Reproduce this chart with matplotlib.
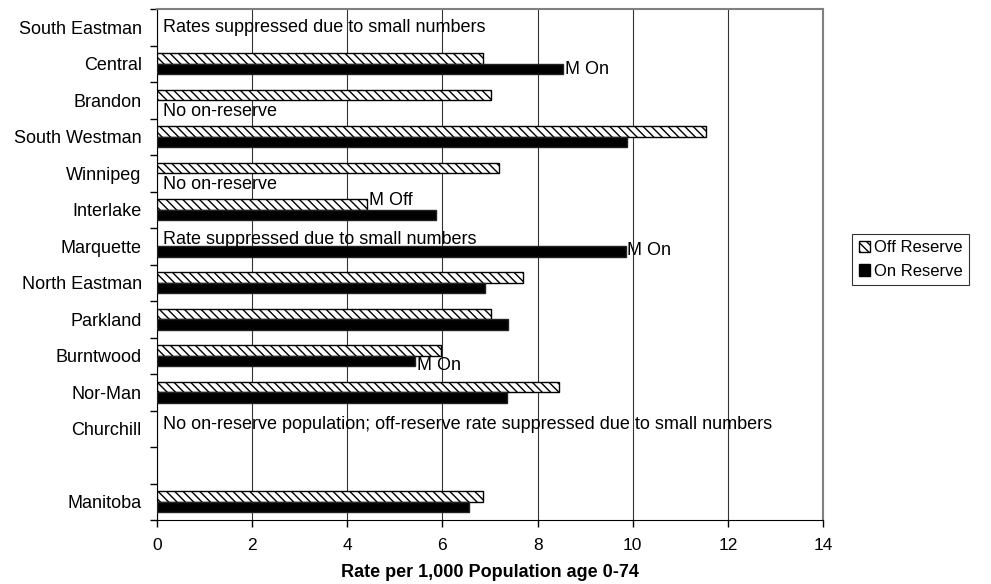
import numpy as np
import matplotlib
matplotlib.use("Agg")
import matplotlib.pyplot as plt
from matplotlib.patches import Patch
from matplotlib.ticker import FixedLocator, NullFormatter

plt.rcParams['font.family'] = ['Liberation Sans', 'DejaVu Sans']
plt.rcParams['hatch.linewidth'] = 1.0

# 区域与数据（空字符串为占位行）
regions = ["South Eastman", "Central", "Brandon", "South Westman", "Winnipeg",
           "Interlake", "Marquette", "North Eastman", "Parkland", "Burntwood",
           "Nor-Man", "Churchill", "", "Manitoba"]
off_reserve = [np.nan, 6.86, 7.02, 11.55, 7.19, 4.42, np.nan, 7.70, 7.02, 5.96,
               8.44, np.nan, np.nan, 6.85]
on_reserve = [np.nan, 8.54, np.nan, 9.89, np.nan, 5.87, 9.86, 6.89, 7.38, 5.43,
              7.36, np.nan, np.nan, 6.55]

# 文字说明：(行号, 文本)
notes = [
    (0, "Rates suppressed due to small numbers"),
    (2, "No on-reserve"),
    (4, "No on-reserve"),
    (6, "Rate suppressed due to small numbers"),
    (11, "No on-reserve population; off-reserve rate suppressed due to small numbers"),
]
# 条形末端标记：(行号, 条形, 文本)
flags = [(1, 'on', "M On"), (5, 'off', "M Off"), (6, 'on', "M On"), (9, 'on', "M On")]

FS = 13
BAR_H = 0.29
OFFSET = {'off': -BAR_H / 2, 'on': BAR_H / 2}
# 说明文字相对行中心的纵向位置（数据单位）
note_dy = {0: 0.0, 2: 0.31, 4: 0.31, 6: -0.19, 11: -0.12}
flag_dy = {1: 0.16, 5: -0.24, 6: 0.12, 9: 0.28}

fig = plt.figure(figsize=(9.91, 5.84), dpi=100)
ax = fig.add_axes([157 / 991, 1 - 520 / 584, (823 - 157) / 991, (520 - 9) / 584])

y = np.arange(len(regions))
ax.barh(y + OFFSET['off'], off_reserve, height=BAR_H, color='white',
        edgecolor='black', hatch='\\\\\\\\', linewidth=1.0, zorder=3)
ax.barh(y + OFFSET['on'], on_reserve, height=BAR_H, color='black',
        edgecolor='#222222', linewidth=1.0, zorder=3)

for row, text in notes:
    ax.text(0.12, row + note_dy[row], text, fontsize=FS, va='center', ha='left', zorder=4)

for row, which, text in flags:
    vals = off_reserve if which == 'off' else on_reserve
    ax.text(vals[row] + 0.03, row + flag_dy[row], text, fontsize=FS,
            va='center', ha='left', zorder=4)

ax.set_xlim(0, 14)
ax.set_ylim(len(regions) - 0.5, -0.5)
ax.set_xticks(np.arange(0, 15, 2))
ax.set_xticklabels([str(v) for v in range(0, 15, 2)], fontsize=12.5)
ax.tick_params(axis='x', direction='out', length=5, width=1, pad=8)

# 类别标签居中，刻度线放在类别分界处
ax.set_yticks(y)
ax.set_yticklabels(regions, fontsize=FS)
ax.tick_params(axis='y', which='major', length=0, pad=11)
ax.yaxis.set_minor_locator(FixedLocator(np.arange(-0.5, len(regions), 1)))
ax.yaxis.set_minor_formatter(NullFormatter())
ax.tick_params(axis='y', which='minor', direction='out', length=5, width=1)

ax.grid(axis='x', color='#333333', linewidth=0.8, zorder=0)
ax.set_axisbelow(True)

ax.spines['left'].set_color('black')
ax.spines['bottom'].set_color('black')
for side in ('top', 'right'):
    ax.spines[side].set_color('#808080')
    ax.spines[side].set_linewidth(1.5)

ax.set_xlabel("Rate per 1,000 Population age 0-74", fontsize=13, fontweight='bold',
              labelpad=8)

handles = [Patch(facecolor='white', edgecolor='black', hatch='\\\\\\\\', label='Off Reserve'),
           Patch(facecolor='black', edgecolor='black', label='On Reserve')]
leg = fig.legend(handles=handles, loc='center left',
                 bbox_to_anchor=(852 / 991, 1 - 259.5 / 584), fontsize=12,
                 frameon=True, fancybox=False, handlelength=0.7, handleheight=0.7,
                 handletextpad=0.2, borderpad=0.4, labelspacing=0.5,
                 borderaxespad=0)
leg.get_frame().set_edgecolor('black')
leg.get_frame().set_linewidth(0.8)

fig.savefig("out.png", dpi=100)
